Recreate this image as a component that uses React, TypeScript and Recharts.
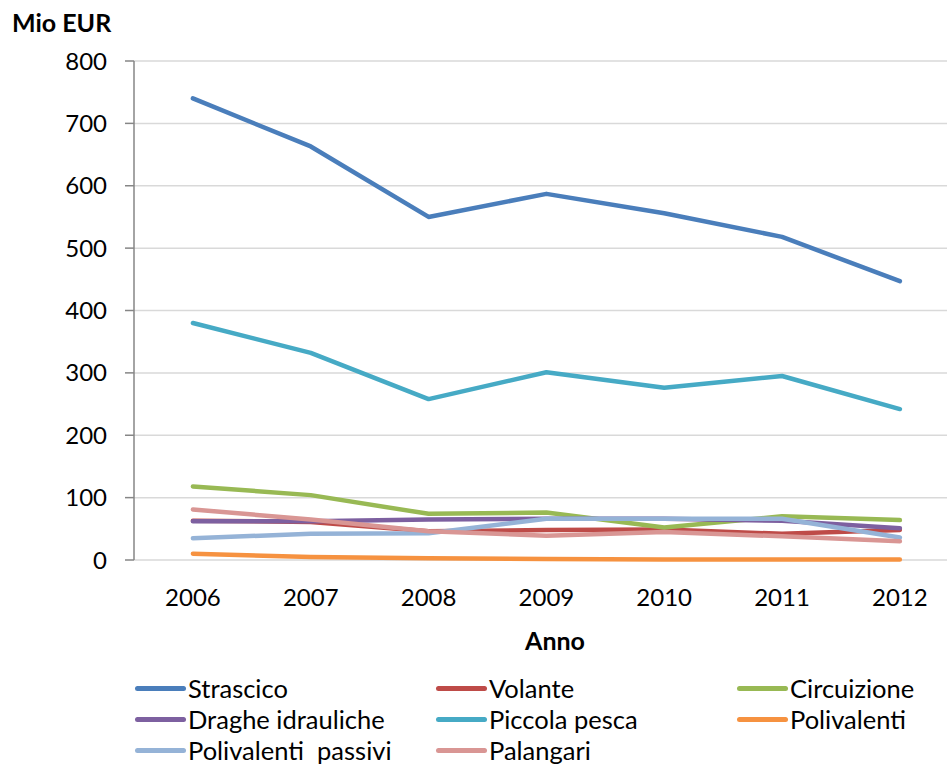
import React from 'react';
import { LineChart, Line, XAxis, YAxis, CartesianGrid } from 'recharts';

const years = [2006, 2007, 2008, 2009, 2010, 2011, 2012];
const strascico = [740, 663, 550, 587, 556, 518, 447];
const volante = [63, 61, 46, 48, 49, 42, 48];
const circuizione = [118, 104, 74, 76, 52, 70, 64];
const draghe = [62, 62, 65, 66, 66, 63, 51];
const piccola = [380, 332, 258, 301, 276, 295, 242];
const polivalenti = [10, 5, 3, 1.5, 1, 1, 1];
const passivi = [35, 42, 43, 66, 66, 66, 36];
const palangari = [81, 65, 46, 39, 45, 38, 30];
const yTicks = [0, 100, 200, 300, 400, 500, 600, 700, 800];

const series = [
  { key: 'strascico', name: 'Strascico', color: '#4A7EBB', values: strascico },
  { key: 'volante', name: 'Volante', color: '#BE4B48', values: volante },
  { key: 'circuizione', name: 'Circuizione', color: '#98B954', values: circuizione },
  { key: 'draghe', name: 'Draghe idrauliche', color: '#7D60A0', values: draghe },
  { key: 'piccola', name: 'Piccola pesca', color: '#46AAC5', values: piccola },
  { key: 'polivalenti', name: 'Polivalenti', color: '#F69240', values: polivalenti },
  { key: 'passivi', name: 'Polivalenti  passivi', color: '#95B3D7', values: passivi },
  { key: 'palangari', name: 'Palangari', color: '#D99694', values: palangari },
];

const data = years.map((y, i) => {
  const row: Record<string, number> = { year: y };
  series.forEach((s) => {
    row[s.key] = s.values[i];
  });
  return row;
});

const FONT = 'Lato, "DejaVu Sans", sans-serif';
const DOMAIN: [number, number] = [2005.5, 2012.4];
const halfTicks = years.map((y) => y - 0.5);

const NoLabel = () => <g />;

export default function App() {
  return (
    <div style={{ position: 'absolute', left: 0, top: 0, width: 947, height: 766, fontFamily: FONT, background: '#fff' }}>
      <LineChart width={947} height={766} data={data} margin={{ top: 61, right: 0, bottom: 0, left: 0 }}>
        <CartesianGrid horizontal vertical={false} stroke="#D9D9D9" strokeWidth={1.5} />
        <XAxis
          xAxisId="t"
          type="number"
          dataKey="year"
          domain={DOMAIN}
          allowDataOverflow
          ticks={halfTicks}
          height={0}
          tick={NoLabel}
          tickSize={9}
          tickLine={{ stroke: '#868686', strokeWidth: 1.5 }}
          axisLine={{ stroke: '#868686', strokeWidth: 1.5 }}
        />
        <XAxis
          xAxisId="lab"
          type="number"
          dataKey="year"
          domain={DOMAIN}
          allowDataOverflow
          ticks={years}
          height={206}
          axisLine={false}
          tickLine={false}
          tickSize={0}
          tickMargin={29}
          tick={{ fill: '#000', fontSize: 24, fontFamily: FONT }}
        />
        <YAxis
          type="number"
          domain={[0, 800]}
          ticks={yTicks}
          width={134}
          tickSize={9}
          tickMargin={18}
          axisLine={{ stroke: '#868686', strokeWidth: 1.5 }}
          tickLine={{ stroke: '#868686', strokeWidth: 1.5 }}
          tick={{ fill: '#000', fontSize: 24, fontFamily: FONT }}
        />
        {series.map((s) => (
          <Line
            key={s.key}
            xAxisId="lab"
            dataKey={s.key}
            name={s.name}
            stroke={s.color}
            strokeWidth={4.5}
            strokeLinejoin="round"
            strokeLinecap="round"
            dot={false}
            activeDot={false}
            isAnimationActive={false}
            type="linear"
          />
        ))}
      </LineChart>
      <div style={{ position: 'absolute', left: 12, top: 6, fontSize: 25, fontWeight: 700, color: '#000', lineHeight: '32px' }}>Mio EUR</div>
      <div style={{ position: 'absolute', left: 455, width: 200, textAlign: 'center', top: 624, fontSize: 25, fontWeight: 700, color: '#000', lineHeight: '32px' }}>Anno</div>
      {series.map((s, i) => {
        const col = i % 3;
        const row = Math.floor(i / 3);
        return (
          <div
            key={s.key}
            style={{ position: 'absolute', left: 135 + col * 301, top: 672 + row * 31, height: 32, display: 'flex', alignItems: 'center', whiteSpace: 'pre' }}
          >
            <div style={{ width: 51, height: 5, borderRadius: 2.5, background: s.color, marginRight: 2 }} />
            <span style={{ fontSize: 25.5, color: '#000', lineHeight: '32px' }}>{s.name}</span>
          </div>
        );
      })}
    </div>
  );
}
